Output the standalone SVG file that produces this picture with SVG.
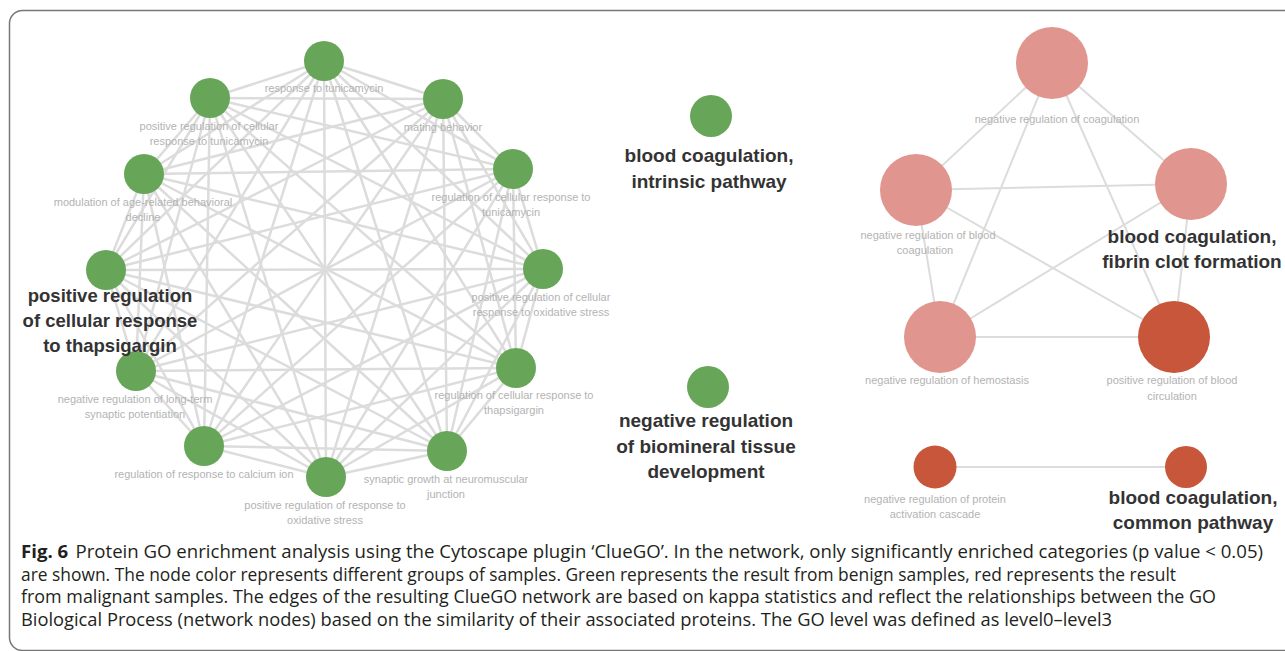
<svg xmlns="http://www.w3.org/2000/svg" width="1285" height="651" viewBox="0 0 1285 651">
<style>
.e{stroke:#dcdcdc;stroke-width:2.5;fill:none}
.re{stroke:#dcdcdc;stroke-width:2;fill:none}
.g{fill:#67a659}
.p{fill:#e0958f}
.r{fill:#c8563a}
.s{font-family:"Liberation Sans",Arial,sans-serif;font-size:11px;fill:#b3b3b3;text-anchor:middle}
.b{font-family:"Liberation Sans",Arial,sans-serif;font-size:19px;font-weight:bold;fill:#333;text-anchor:middle}
.bl{font-size:18.5px}
.c{font-family:"Open Sans","Noto Sans",sans-serif;font-size:17.5px;fill:#231f20}
</style>
<rect x="9.5" y="10.5" width="1300" height="640" rx="13" fill="#fff" stroke="#777" stroke-width="1.5"/>
<g id="connectors">
<line class="e" x1="324" y1="61" x2="210" y2="98"/>
<line class="e" x1="324" y1="61" x2="443" y2="99"/>
<line class="e" x1="324" y1="61" x2="144" y2="174"/>
<line class="e" x1="324" y1="61" x2="513" y2="169"/>
<line class="e" x1="324" y1="61" x2="106" y2="270"/>
<line class="e" x1="324" y1="61" x2="543" y2="269"/>
<line class="e" x1="324" y1="61" x2="136" y2="371"/>
<line class="e" x1="324" y1="61" x2="516" y2="368"/>
<line class="e" x1="324" y1="61" x2="204" y2="446"/>
<line class="e" x1="324" y1="61" x2="447" y2="451"/>
<line class="e" x1="324" y1="61" x2="326" y2="477"/>
<line class="e" x1="210" y1="98" x2="443" y2="99"/>
<line class="e" x1="210" y1="98" x2="144" y2="174"/>
<line class="e" x1="210" y1="98" x2="513" y2="169"/>
<line class="e" x1="210" y1="98" x2="106" y2="270"/>
<line class="e" x1="210" y1="98" x2="543" y2="269"/>
<line class="e" x1="210" y1="98" x2="136" y2="371"/>
<line class="e" x1="210" y1="98" x2="516" y2="368"/>
<line class="e" x1="210" y1="98" x2="204" y2="446"/>
<line class="e" x1="210" y1="98" x2="447" y2="451"/>
<line class="e" x1="210" y1="98" x2="326" y2="477"/>
<line class="e" x1="443" y1="99" x2="144" y2="174"/>
<line class="e" x1="443" y1="99" x2="513" y2="169"/>
<line class="e" x1="443" y1="99" x2="106" y2="270"/>
<line class="e" x1="443" y1="99" x2="543" y2="269"/>
<line class="e" x1="443" y1="99" x2="136" y2="371"/>
<line class="e" x1="443" y1="99" x2="516" y2="368"/>
<line class="e" x1="443" y1="99" x2="204" y2="446"/>
<line class="e" x1="443" y1="99" x2="447" y2="451"/>
<line class="e" x1="443" y1="99" x2="326" y2="477"/>
<line class="e" x1="144" y1="174" x2="513" y2="169"/>
<line class="e" x1="144" y1="174" x2="106" y2="270"/>
<line class="e" x1="144" y1="174" x2="543" y2="269"/>
<line class="e" x1="144" y1="174" x2="136" y2="371"/>
<line class="e" x1="144" y1="174" x2="516" y2="368"/>
<line class="e" x1="144" y1="174" x2="204" y2="446"/>
<line class="e" x1="144" y1="174" x2="447" y2="451"/>
<line class="e" x1="144" y1="174" x2="326" y2="477"/>
<line class="e" x1="513" y1="169" x2="106" y2="270"/>
<line class="e" x1="513" y1="169" x2="543" y2="269"/>
<line class="e" x1="513" y1="169" x2="136" y2="371"/>
<line class="e" x1="513" y1="169" x2="516" y2="368"/>
<line class="e" x1="513" y1="169" x2="204" y2="446"/>
<line class="e" x1="513" y1="169" x2="447" y2="451"/>
<line class="e" x1="513" y1="169" x2="326" y2="477"/>
<line class="e" x1="106" y1="270" x2="543" y2="269"/>
<line class="e" x1="106" y1="270" x2="136" y2="371"/>
<line class="e" x1="106" y1="270" x2="516" y2="368"/>
<line class="e" x1="106" y1="270" x2="204" y2="446"/>
<line class="e" x1="106" y1="270" x2="447" y2="451"/>
<line class="e" x1="106" y1="270" x2="326" y2="477"/>
<line class="e" x1="543" y1="269" x2="136" y2="371"/>
<line class="e" x1="543" y1="269" x2="516" y2="368"/>
<line class="e" x1="543" y1="269" x2="204" y2="446"/>
<line class="e" x1="543" y1="269" x2="447" y2="451"/>
<line class="e" x1="543" y1="269" x2="326" y2="477"/>
<line class="e" x1="136" y1="371" x2="516" y2="368"/>
<line class="e" x1="136" y1="371" x2="204" y2="446"/>
<line class="e" x1="136" y1="371" x2="447" y2="451"/>
<line class="e" x1="136" y1="371" x2="326" y2="477"/>
<line class="e" x1="516" y1="368" x2="204" y2="446"/>
<line class="e" x1="516" y1="368" x2="447" y2="451"/>
<line class="e" x1="516" y1="368" x2="326" y2="477"/>
<line class="e" x1="204" y1="446" x2="447" y2="451"/>
<line class="e" x1="204" y1="446" x2="326" y2="477"/>
<line class="e" x1="447" y1="451" x2="326" y2="477"/>
<line class="re" x1="1052" y1="63" x2="916" y2="190"/>
<line class="re" x1="1052" y1="63" x2="1191" y2="184"/>
<line class="re" x1="1052" y1="63" x2="940" y2="337"/>
<line class="re" x1="1052" y1="63" x2="1174" y2="337"/>
<line class="re" x1="916" y1="190" x2="1191" y2="184"/>
<line class="re" x1="916" y1="190" x2="940" y2="337"/>
<line class="re" x1="916" y1="190" x2="1174" y2="337"/>
<line class="re" x1="1191" y1="184" x2="940" y2="337"/>
<line class="re" x1="1191" y1="184" x2="1174" y2="337"/>
<line class="re" x1="940" y1="337" x2="1174" y2="337"/>
<line class="re" x1="935" y1="467" x2="1186" y2="467"/>
</g>
<g id="n1"><circle class="g" cx="324" cy="61" r="20"/><text class="s" x="324" y="92">response to tunicamycin</text></g>
<g id="n2"><circle class="g" cx="210" cy="98" r="20"/><text class="s" x="209" y="130">positive regulation of cellular</text><text class="s" x="209" y="145">response to tunicamycin</text></g>
<g id="n3"><circle class="g" cx="443" cy="99" r="20"/><text class="s" x="443" y="131">mating behavior</text></g>
<g id="n4"><circle class="g" cx="144" cy="174" r="20"/><text class="s" x="143" y="206">modulation of age-related behavioral</text><text class="s" x="143" y="221">decline</text></g>
<g id="n5"><circle class="g" cx="513" cy="169" r="20"/><text class="s" x="511" y="201">regulation of cellular response to</text><text class="s" x="511" y="216">tunicamycin</text></g>
<g id="n7"><circle class="g" cx="543" cy="269" r="20"/><text class="s" x="541" y="301">positive regulation of cellular</text><text class="s" x="541" y="316">response to oxidative stress</text></g>
<g id="n8"><circle class="g" cx="136" cy="371" r="20"/><text class="s" x="135" y="403">negative regulation of long-term</text><text class="s" x="135" y="418">synaptic potentiation</text></g>
<g id="n6"><circle class="g" cx="106" cy="270" r="20"/><text class="b bl" x="110" y="302">positive regulation</text><text class="b bl" x="110" y="327">of cellular response</text><text class="b bl" x="110" y="352">to thapsigargin</text></g>
<g id="n9"><circle class="g" cx="516" cy="368" r="20"/><text class="s" x="514" y="399">regulation of cellular response to</text><text class="s" x="514" y="414">thapsigargin</text></g>
<g id="n10"><circle class="g" cx="204" cy="446" r="20"/><text class="s" x="204" y="478">regulation of response to calcium ion</text></g>
<g id="n11"><circle class="g" cx="447" cy="451" r="20"/><text class="s" x="446" y="483">synaptic growth at neuromuscular</text><text class="s" x="446" y="498">junction</text></g>
<g id="n12"><circle class="g" cx="326" cy="477" r="20"/><text class="s" x="325" y="509">positive regulation of response to</text><text class="s" x="325" y="524">oxidative stress</text></g>
<g id="n13"><circle class="g" cx="711" cy="116" r="21"/><text class="b" x="709" y="162">blood coagulation,</text><text class="b" x="709" y="188">intrinsic pathway</text></g>
<g id="n14"><circle class="g" cx="708" cy="387" r="21"/><text class="b" x="706" y="427">negative regulation</text><text class="b" x="706" y="453">of biomineral tissue</text><text class="b" x="706" y="478">development</text></g>
<g id="r1"><circle class="p" cx="1052" cy="63" r="36"/><text class="s" x="1057" y="123">negative regulation of coagulation</text></g>
<g id="r2"><circle class="p" cx="916" cy="190" r="36"/><text class="s" x="928" y="239">negative regulation of blood</text><text class="s" x="925" y="254">coagulation</text></g>
<g id="r3"><circle class="p" cx="1191" cy="184" r="36"/><text class="b" x="1192" y="243">blood coagulation,</text><text class="b" x="1192" y="268">fibrin clot formation</text></g>
<g id="r4"><circle class="p" cx="940" cy="337" r="36"/><text class="s" x="947" y="384">negative regulation of hemostasis</text></g>
<g id="r5"><circle class="r" cx="1174" cy="337" r="36"/><text class="s" x="1172" y="384">positive regulation of blood</text><text class="s" x="1172" y="400">circulation</text></g>
<g id="r6"><circle class="r" cx="935" cy="467" r="21.5"/><text class="s" x="935" y="503">negative regulation of protein</text><text class="s" x="935" y="518">activation cascade</text></g>
<g id="r7"><circle class="r" cx="1186" cy="467" r="21"/><text class="b" x="1193" y="504">blood coagulation,</text><text class="b" x="1193" y="529">common pathway</text></g>
<g id="caption">
<text class="c" x="21" y="558" textLength="1242" lengthAdjust="spacingAndGlyphs"><tspan font-weight="bold">Fig. 6</tspan><tspan dx="7">Protein GO enrichment analysis using the Cytoscape plugin ‘ClueGO’. In the network, only significantly enriched categories (p value &lt; 0.05)</tspan></text>
<text class="c" x="21" y="581" textLength="1155" lengthAdjust="spacingAndGlyphs">are shown. The node color represents different groups of samples. Green represents the result from benign samples, red represents the result</text>
<text class="c" x="21" y="603" textLength="1195" lengthAdjust="spacingAndGlyphs">from malignant samples. The edges of the resulting ClueGO network are based on kappa statistics and reflect the relationships between the GO</text>
<text class="c" x="21" y="626" textLength="1091" lengthAdjust="spacingAndGlyphs">Biological Process (network nodes) based on the similarity of their associated proteins. The GO level was defined as level0–level3</text>
</g>
</svg>
